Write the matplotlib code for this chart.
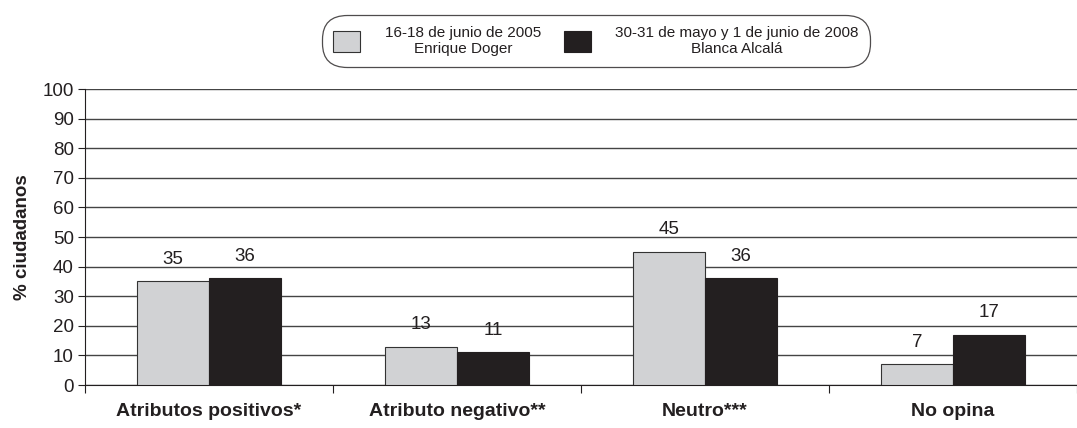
import matplotlib.pyplot as plt
import numpy as np

categories = ["Atributos positivos*", "Atributo negativo**", "Neutro***", "No opina"]
serie_2005 = [35, 13, 45, 7]
serie_2008 = [36, 11, 36, 17]
label_2005 = "16-18 de junio de 2005\nEnrique Doger"
label_2008 = "30-31 de mayo y 1 de junio de 2008\nBlanca Alcalá"
yticks = [0, 10, 20, 30, 40, 50, 60, 70, 80, 90, 100]

plt.rcParams['font.family'] = ['Liberation Sans', 'DejaVu Sans']

fig = plt.figure(figsize=(10.77, 4.28), dpi=100)
ax = fig.add_axes([85 / 1077, 1 - 385 / 428, 1 - 85 / 1077, (385 - 89) / 428])

x = np.arange(len(categories))
w = 0.29
b1 = ax.bar(x - w / 2, serie_2005, w, color="#d1d2d4", edgecolor="#333333", linewidth=0.8,
            label=label_2005, zorder=3)
b2 = ax.bar(x + w / 2, serie_2008, w, color="#231f20", edgecolor="#231f20", linewidth=0.8,
            label=label_2008, zorder=3)

for bars, vals in ((b1, serie_2005), (b2, serie_2008)):
    for r, v in zip(bars, vals):
        ax.text(r.get_x() + r.get_width() / 2, v + 4.5, str(v), ha="center", va="bottom",
                fontsize=13.5, color="#231f20", zorder=2)

ax.set_ylim(0, 100)
ax.set_yticks(yticks)
ax.tick_params(axis="y", labelsize=13.5, length=5, width=0.8, colors="#231f20", pad=3)
ax.yaxis.grid(True, color="#444444", linewidth=1.0, zorder=0)
ax.set_axisbelow(True)

ax.set_xlim(-0.5, len(categories) - 0.5)
ax.set_xticks(x)
ax.set_xticklabels(categories, fontsize=14, fontweight="bold", color="#231f20")
ax.tick_params(axis="x", which="major", length=0, pad=13)
ax.set_xticks(np.arange(len(categories) + 1) - 0.5, minor=True)
ax.tick_params(axis="x", which="minor", length=6, width=0.8, color="#231f20")

ax.set_ylabel("% ciudadanos", fontsize=13.5, fontweight="bold", color="#231f20", labelpad=8)

for s in ("top", "right"):
    ax.spines[s].set_visible(False)
ax.spines["left"].set_color("#231f20")
ax.spines["bottom"].set_color("#231f20")

leg = fig.legend(loc="center", bbox_to_anchor=(596 / 1077, 1 - 41 / 428), ncol=2,
                 fontsize=11, frameon=True,
                 handlelength=1.76, handleheight=1.76,
                 columnspacing=1.5, handletextpad=1.6, borderpad=0.72, labelspacing=0.2,
                 borderaxespad=0)
for t in leg.get_texts():
    t.set_multialignment("center")
    t.set_color("#231f20")
fr = leg.get_frame()
fr.set_boxstyle("round,pad=0,rounding_size=1.6")
fr.set_edgecolor("#231f20")
fr.set_linewidth(0.9)

fig.savefig("out.png", dpi=100)
